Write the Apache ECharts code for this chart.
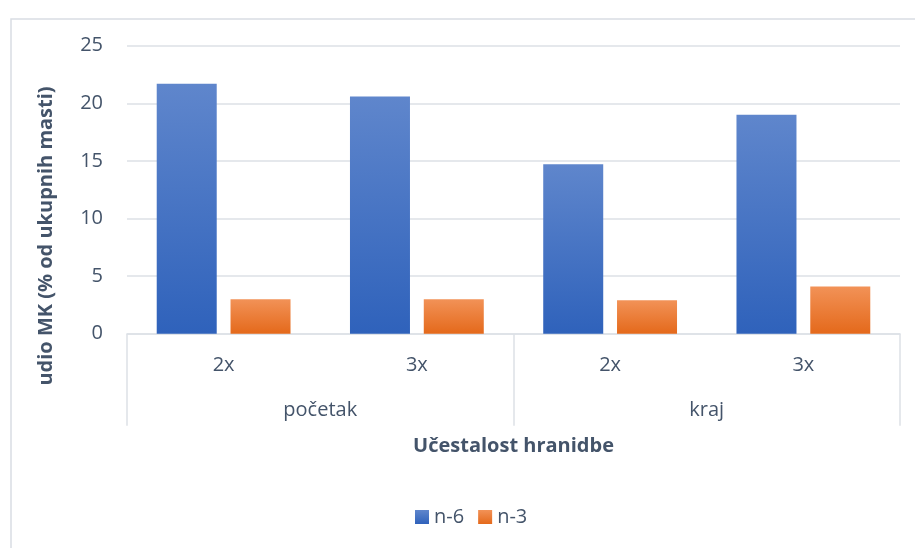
<!DOCTYPE html>
<html>
<head>
<meta charset="utf-8">
<script src="https://cdn.jsdelivr.net/npm/echarts@6/dist/echarts.min.js"></script>
<style>html,body{margin:0;padding:0;background:#fff}#c{width:915px;height:548px}</style>
</head>
<body>
<div id="c"></div>
<script>
const innerCats = ['2x', '3x', '2x', '3x'];
const outerCats = ['početak', 'kraj'];
const seriesNames = ['n-6', 'n-3'];
const n6 = [21.7, 20.6, 14.7, 19.0];
const n3 = [3.0, 3.0, 2.9, 4.1];
const yTicks = [0, 5, 10, 15, 20, 25];
const xTitle = 'Učestalost hranidbe';
const yTitle = 'udio MK (% od ukupnih masti)';

const FONT = 'Open Sans';
const TXT = '#44546a';
const GRID = '#dde1e6';

function grad(top, bottom) {
  return new echarts.graphic.LinearGradient(0, 0, 0, 1, [
    { offset: 0, color: top }, { offset: 1, color: bottom }
  ]);
}

const chart = echarts.init(document.getElementById('c'), null, { renderer: 'canvas' });
chart.setOption({
  animation: false,
  backgroundColor: '#fff',
  textStyle: { fontFamily: FONT },
  graphic: [{
    type: 'rect', left: 8.5, top: 16.5,
    shape: { width: 930, height: 560 },
    style: { fill: 'none', stroke: '#d9dde3', lineWidth: 1.5 }
  }, {
    type: 'text',
    x: 46, y: 236, rotation: Math.PI / 2,
    style: {
      text: yTitle, fill: TXT, font: 'bold 20px "Open Sans"',
      textAlign: 'center', textVerticalAlign: 'middle'
    }
  }],
  grid: { left: 127, right: 15, top: 45.7, bottom: 214.3, containLabel: false },
  legend: {
    data: seriesNames,
    top: 507, left: 415, padding: 0,
    icon: 'rect', itemWidth: 14, itemHeight: 14, itemGap: 14,
    textStyle: { color: TXT, fontSize: 20, fontFamily: FONT }
  },
  xAxis: [{
    type: 'category',
    data: innerCats,
    position: 'bottom',
    axisLine: { show: true, lineStyle: { color: GRID, width: 1.5 } },
    axisTick: { show: false },
    axisLabel: { color: TXT, fontSize: 20, margin: 22, fontFamily: FONT }
  }, {
    type: 'category',
    data: outerCats,
    position: 'bottom',
    axisLine: { show: false },
    axisTick: { show: true, length: 92, lineStyle: { color: GRID, width: 1.5 } },
    axisLabel: { color: TXT, fontSize: 20, margin: 67, fontFamily: FONT },
    name: xTitle,
    nameLocation: 'middle',
    nameGap: 103,
    nameTextStyle: { color: TXT, fontSize: 20, fontWeight: 'bold', fontFamily: FONT }
  }],
  yAxis: {
    type: 'value',
    min: yTicks[0], max: yTicks[yTicks.length - 1], interval: 5,
    axisLine: { show: false },
    axisTick: { show: false },
    splitLine: { lineStyle: { color: GRID, width: 1.5 } },
    axisLabel: { color: TXT, fontSize: 20, margin: 24, fontFamily: FONT }
  },
  series: [{
    name: seriesNames[0], type: 'bar', data: n6, xAxisIndex: 0,
    barWidth: 60, barGap: '23%',
    itemStyle: { color: grad('#5f86cc', '#2f62bb') }
  }, {
    name: seriesNames[1], type: 'bar', data: n3, xAxisIndex: 0,
    barWidth: 60, barGap: '23%',
    itemStyle: { color: grad('#f29257', '#e4691b') }
  }]
});
</script>
</body>
</html>
